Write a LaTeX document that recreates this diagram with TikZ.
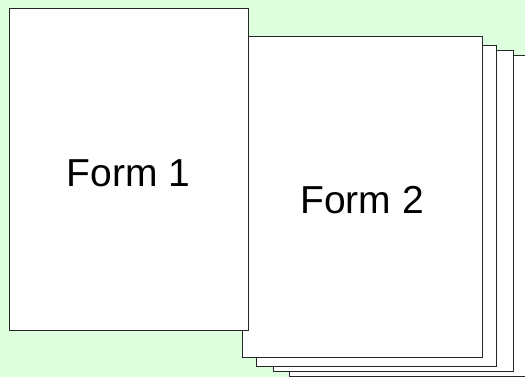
\documentclass[tikz,border=0pt]{standalone}
\usepackage{fontspec}
\setmainfont{Liberation Sans}
\definecolor{pagegreen}{RGB}{221,255,221}
\begin{document}
\begin{tikzpicture}[x=1pt,y=-1pt,
  sheet/.style={draw=black!85, line width=1pt, fill=white, minimum width=240pt, minimum height=320pt, inner sep=0pt},
  formtext/.style={font=\fontsize{39}{46}\selectfont, text height=34pt, text depth=0pt}]
\clip (0,0) rectangle (525,377);
\fill[pagegreen] (0,0) rectangle (525,377);
\useasboundingbox (0,0) rectangle (525,377);
% stack of copies behind Form 2
\node[sheet] (copy3) at (409,216) {};
\node[sheet] (copy2) at (393,211) {};
\node[sheet] (copy1) at (376,206) {};
\node[sheet, formtext] (form2) at (362,197) {Form 2};
% first form on top
\node[sheet, formtext, minimum width=239pt, minimum height=321pt] (form1) at (128.75,169.5) {Form 1};
\end{tikzpicture}
\end{document}
